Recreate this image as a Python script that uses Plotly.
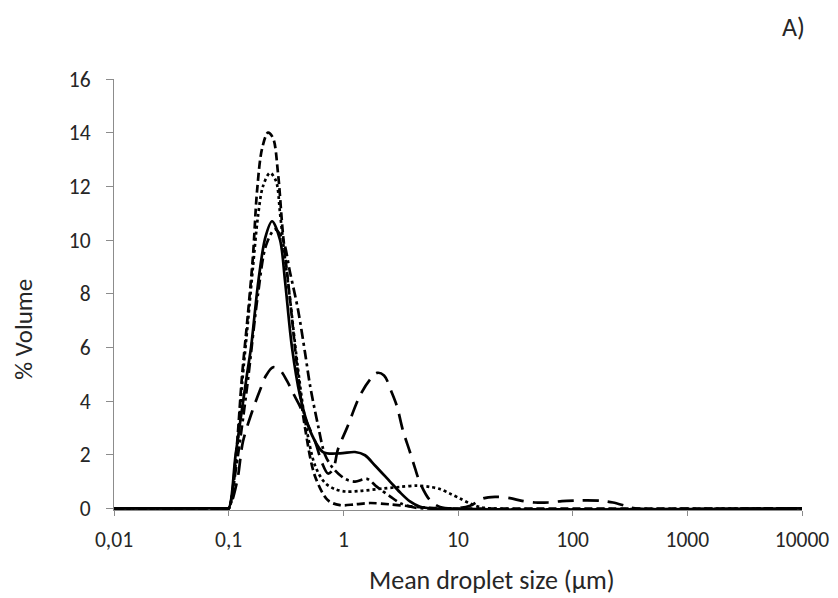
import plotly.graph_objects as go

# Mean droplet size (µm) and % volume for each distribution
size_solid = [0.01, 0.0933, 0.1, 0.115, 0.1445, 0.1567, 0.182, 0.2089, 0.2388, 0.2806, 0.3097,
              0.3565, 0.4188, 0.5117, 0.6653, 0.9354, 1.2647, 1.5453, 1.888, 2.5527, 3.119,
              3.811, 4.667, 5.929, 10000]
vol_solid = [0, 0, 0, 2.0, 5.0, 6.0, 8.5, 10.1, 10.7, 10.0, 8.5,
             6.0, 4.2, 2.9, 2.1, 2.05, 2.1, 1.98, 1.6, 1.0, 0.6,
             0.26, 0.06, 0, 0]

size_dash = [0.01, 0.0933, 0.1, 0.1159, 0.1306, 0.1476, 0.1629, 0.1766, 0.1954, 0.2203, 0.2438,
             0.2692, 0.2978, 0.3427, 0.3945, 0.4634, 0.5662, 0.7345, 0.9354, 1.2647, 1.71,
             2.553, 3.811, 5.702, 7.709, 10000]
vol_dash = [0, 0, 0, 2.0, 4.9, 7.3, 9.4, 11.8, 13.4, 14.0, 13.8,
            12.5, 10.2, 7.8, 5.3, 3.0, 1.2, 0.3, 0.12, 0.15, 0.2,
            0.15, 0.08, 0.02, 0, 0]

size_dot = [0.01, 0.0933, 0.1, 0.1159, 0.1306, 0.1476, 0.1629, 0.1803, 0.199, 0.2291, 0.2588,
            0.2806, 0.304, 0.3427, 0.3945, 0.4634, 0.5662, 0.6918, 0.8453, 1.035, 1.396,
            2.218, 3.119, 4.385, 5.702, 6.966, 8.511, 10.4, 12.74, 15.56, 19.01, 10000]
vol_dot = [0, 0, 0, 1.8, 4.6, 7.0, 9.0, 10.9, 12.0, 12.5, 12.2,
           11.0, 9.6, 7.8, 5.5, 3.3, 1.6, 0.95, 0.72, 0.63, 0.65,
           0.74, 0.8, 0.85, 0.8, 0.72, 0.55, 0.37, 0.18, 0.05, 0, 0]

size_dashdot = [0.01, 0.0933, 0.1, 0.1159, 0.1445, 0.1803, 0.2118, 0.2535, 0.2978, 0.3427, 0.4027,
                0.4634, 0.5117, 0.6012, 0.6918, 0.8128, 1.035, 1.265, 1.607, 1.968, 2.553,
                3.119, 3.972, 5.152, 10000]
vol_dashdot = [0, 0, 0, 1.5, 4.5, 8.0, 9.8, 10.4, 10.0, 8.8, 7.4,
               5.8, 4.6, 3.1, 2.0, 1.5, 1.1, 1.0, 1.1, 0.8, 0.45,
               0.2, 0.05, 0, 0]

size_longdash = [0.01, 0.0933, 0.1, 0.1183, 0.1334, 0.1629, 0.1875, 0.2118, 0.2438, 0.2806, 0.3228,
                 0.3639, 0.4188, 0.4819, 0.5662, 0.6516, 0.7345, 0.8128, 0.8974, 1.076, 1.396,
                 1.71, 1.968, 2.265, 2.655, 2.938, 3.311, 3.811, 4.217, 4.667, 5.702,
                 6.966, 9.419, 12.74, 16.52, 21.04, 28.38, 36.14, 46.88, 60.95, 80.72,
                 104.7, 133.4, 180.3, 224.9, 286.4, 349.9, 10000]
vol_longdash = [0, 0, 0, 1.0, 2.5, 3.7, 4.4, 4.95, 5.26, 5.15, 4.75,
                4.3, 3.8, 3.2, 2.5, 1.7, 1.3, 1.45, 2.2, 3.0, 4.2,
                4.8, 5.05, 4.95, 4.3, 3.8, 2.9, 2.1, 1.5, 0.95, 0.3,
                0.05, 0, 0.1, 0.37, 0.43, 0.38, 0.28, 0.22, 0.22, 0.27,
                0.29, 0.3, 0.28, 0.22, 0.1, 0, 0]

x_tickvals = [0.01, 0.1, 1, 10, 100, 1000, 10000]
x_ticktext = ["0,01", "0,1", "1", "10", "100", "1000", "10000"]
y_tickvals = [0, 2, 4, 6, 8, 10, 12, 14, 16]

FONT = "Carlito, Lato, sans-serif"
TXT = "#262626"
AX = "#8c8c8c"

series = [
    (size_longdash, vol_longdash, "16px,9px"),
    (size_dashdot, vol_dashdot, "10px,4px,3px,4px"),
    (size_dot, vol_dot, "3px,3px"),
    (size_dash, vol_dash, "8px,4px"),
    (size_solid, vol_solid, "solid"),
]

fig = go.Figure()
for xs, ys, dash in series:
    fig.add_trace(go.Scatter(
        x=xs, y=ys, mode="lines",
        line=dict(color="black", width=2.7, dash=dash, shape="spline", smoothing=0.9),
        showlegend=False, hoverinfo="skip",
    ))

fig.update_layout(
    width=830, height=590,
    margin=dict(l=106, r=36, t=71, b=88),
    paper_bgcolor="white", plot_bgcolor="white",
    font=dict(family=FONT, size=21, color=TXT),
    xaxis=dict(
        type="log", range=[-2, 4], automargin=False,
        tickvals=x_tickvals, ticktext=x_ticktext,
        showgrid=False, zeroline=False,
        showline=True, linecolor=AX, linewidth=1.3,
        ticks="outside", ticklen=5, tickcolor=AX, tickwidth=1.3,
        tickfont=dict(family=FONT, size=21.5, color=TXT),
        ticklabelstandoff=5,
    ),
    yaxis=dict(
        range=[-0.06, 16], automargin=False,
        tickvals=y_tickvals,
        showgrid=False, zeroline=False,
        showline=True, linecolor=AX, linewidth=1.3,
        ticks="outside", ticklen=7, tickcolor=AX, tickwidth=1.3,
        tickfont=dict(family=FONT, size=21.5, color=TXT),
        ticklabelstandoff=11,
    ),
    annotations=[
        dict(text="Mean droplet size (µm)", xref="paper", yref="paper",
             x=0.549, y=-0.162, xanchor="center", yanchor="middle",
             showarrow=False, font=dict(family=FONT, size=26, color=TXT)),
        dict(text="% Volume", xref="paper", yref="paper",
             x=-0.1308, y=0.418, xanchor="center", yanchor="middle", textangle=-90,
             showarrow=False, font=dict(family=FONT, size=25, color=TXT)),
        dict(text="A)", xref="paper", yref="paper",
             x=0.987, y=1.121, xanchor="center", yanchor="middle",
             showarrow=False, font=dict(family=FONT, size=26, color=TXT)),
    ],
)

fig.write_html("out.html")
